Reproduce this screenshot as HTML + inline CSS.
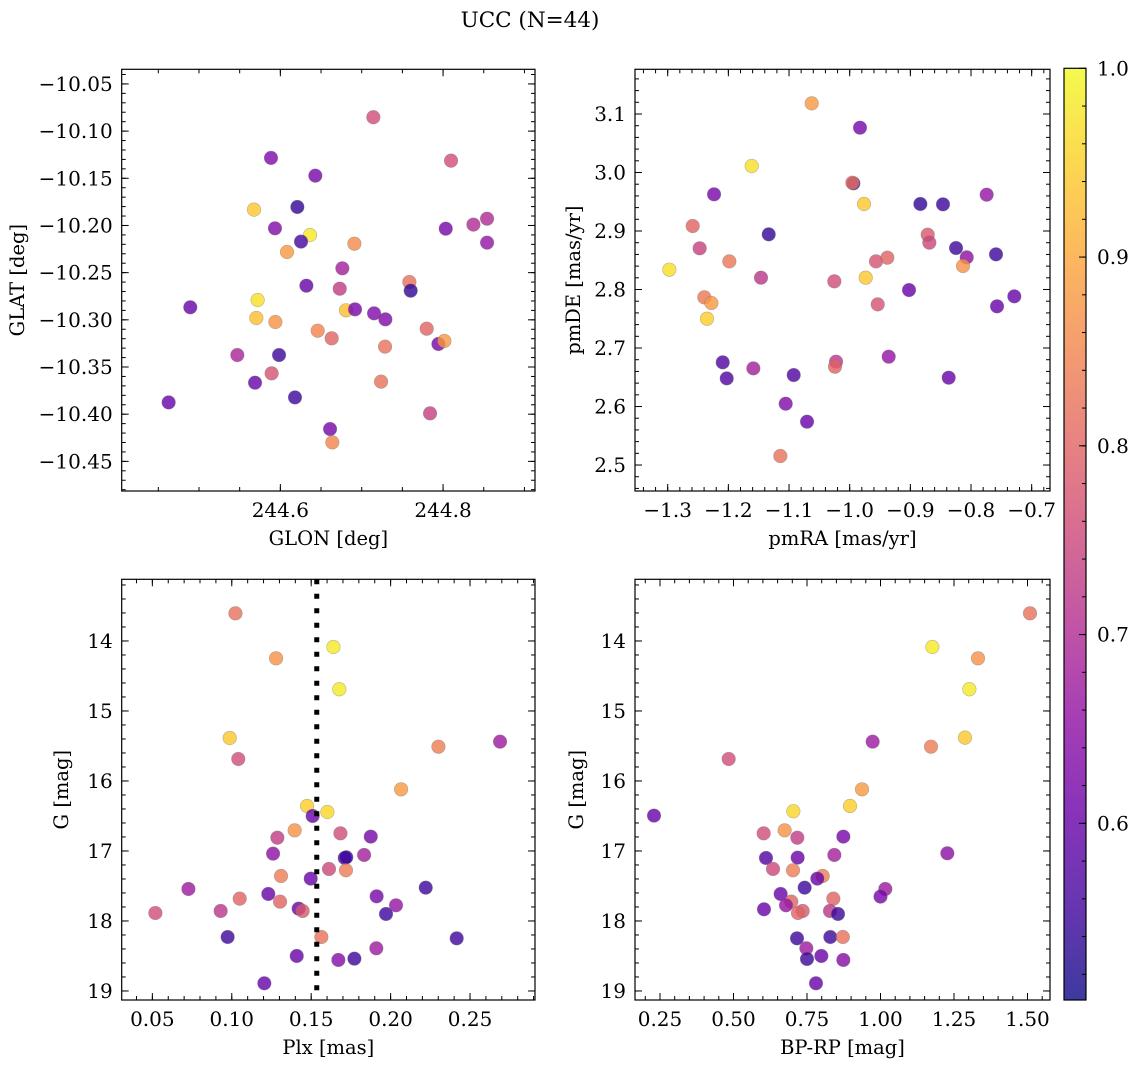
<!DOCTYPE html>
<html><head><meta charset="utf-8"><style>
html,body{margin:0;padding:0;background:#fff}
svg text{font-family:"DejaVu Serif","Liberation Serif",serif;fill:#000}
</style></head><body>
<svg id="fig" width="1136" height="1068" viewBox="0 0 1136 1068" xmlns="http://www.w3.org/2000/svg">
<defs>
<linearGradient id="cmap" x1="0" y1="1" x2="0" y2="0">
<stop offset="0" stop-color="#0d0887"/><stop offset="0.1" stop-color="#41049d"/><stop offset="0.2" stop-color="#6a00a8"/><stop offset="0.3" stop-color="#8f0da4"/><stop offset="0.4" stop-color="#b12a90"/><stop offset="0.5" stop-color="#cc4778"/><stop offset="0.6" stop-color="#e16462"/><stop offset="0.7" stop-color="#f2844b"/><stop offset="0.8" stop-color="#fca636"/><stop offset="0.9" stop-color="#fcce25"/><stop offset="1" stop-color="#f0f921"/>
</linearGradient>
</defs>
<text x="530" y="27" font-size="21.5" text-anchor="middle">UCC (N=44)</text>
</svg>
<script>
// ---- data ----
const glon = [244.7143,244.8098,244.5885,244.6430,244.6209,244.5676,244.6365,244.5934,244.6254,244.6910,244.6082,244.8541,244.8373,244.8033,244.8541,244.6762,244.6320,244.7586,244.7602,244.4893,244.5721,244.5705,244.5939,244.6730,244.6807,244.6918,244.7152,244.7291,244.6459,244.6631,244.7287,244.7799,244.7943,244.8016,244.5471,244.5984,244.5893,244.5689,244.6180,244.7238,244.7840,244.6611,244.6639,244.4627];
const glat = [-10.0853,-10.1313,-10.1284,-10.1472,-10.1804,-10.1832,-10.2101,-10.2030,-10.2171,-10.2193,-10.2281,-10.1928,-10.1991,-10.2034,-10.2182,-10.2454,-10.2638,-10.2599,-10.2691,-10.2867,-10.2790,-10.2981,-10.3023,-10.2670,-10.2899,-10.2889,-10.2931,-10.2995,-10.3115,-10.3196,-10.3284,-10.3094,-10.3256,-10.3224,-10.3373,-10.3373,-10.3567,-10.3666,-10.3822,-10.3655,-10.3991,-10.4157,-10.4299,-10.3875];
const probA = [0.76,0.76,0.63,0.62,0.54,0.94,0.98,0.63,0.56,0.86,0.88,0.70,0.70,0.62,0.66,0.68,0.60,0.82,0.54,0.60,0.97,0.93,0.87,0.73,0.93,0.62,0.63,0.63,0.85,0.80,0.82,0.80,0.62,0.88,0.69,0.55,0.77,0.60,0.55,0.82,0.74,0.62,0.85,0.60];

const pmra = [-1.0626,-0.983,-1.1615,-0.994,-0.9956,-0.9764,-0.8835,-0.8462,-0.7742,-1.2236,-1.2588,-1.1335,-1.2473,-0.8714,-0.8687,-0.8247,-0.8071,-0.8132,-0.7588,-1.1984,-1.2973,-1.1462,-1.0253,-0.9566,-0.9379,-0.9736,-0.9022,-0.9538,-0.7571,-0.7286,-1.2396,-1.228,-1.2352,-1.2093,-1.2027,-1.1588,-1.0923,-1.0225,-1.0242,-0.9357,-0.8368,-1.1055,-1.0703,-1.1143];
const pmde = [3.1182,3.0766,3.0111,2.9815,2.9826,2.9462,2.9462,2.9456,2.9621,2.9627,2.9085,2.8943,2.8704,2.8937,2.8801,2.8709,2.8550,2.8402,2.8601,2.8481,2.8339,2.8202,2.8140,2.8481,2.8544,2.8202,2.7991,2.7746,2.7712,2.7883,2.7866,2.7769,2.7501,2.6755,2.6481,2.6652,2.6538,2.6766,2.6681,2.6852,2.6493,2.6048,2.5741,2.5154];
const probB = [0.88,0.62,0.97,0.55,0.82,0.94,0.54,0.55,0.66,0.62,0.80,0.54,0.74,0.78,0.75,0.55,0.65,0.87,0.55,0.83,0.97,0.72,0.76,0.77,0.80,0.94,0.60,0.77,0.60,0.60,0.83,0.88,0.95,0.57,0.57,0.68,0.57,0.72,0.80,0.66,0.60,0.63,0.60,0.82];

const plx = [0.1023,0.164,0.1279,0.1677,0.0987,0.1041,0.2301,0.2689,0.2066,0.1474,0.1602,0.1509,0.1396,0.1287,0.1684,0.1875,0.126,0.1711,0.1721,0.1833,0.1612,0.1719,0.131,0.1497,0.0727,0.2221,0.105,0.123,0.1304,0.1421,0.1446,0.1912,0.2034,0.1971,0.0519,0.093,0.0974,0.1564,0.2416,0.1409,0.191,0.1671,0.1772,0.1205];
const gmagC = [13.605,14.086,14.248,14.690,15.386,15.686,15.510,15.438,16.119,16.357,16.443,16.5,16.705,16.810,16.748,16.795,17.038,17.1,17.09,17.057,17.257,17.276,17.357,17.395,17.543,17.524,17.681,17.614,17.724,17.824,17.857,17.648,17.776,17.9,17.886,17.857,18.229,18.229,18.248,18.5,18.39,18.557,18.538,18.890];
const probC = [0.82,0.98,0.87,0.98,0.94,0.76,0.84,0.67,0.88,0.95,0.96,0.60,0.87,0.73,0.76,0.62,0.65,0.57,0.55,0.68,0.75,0.84,0.84,0.60,0.67,0.55,0.80,0.60,0.80,0.60,0.78,0.62,0.66,0.55,0.76,0.72,0.55,0.82,0.55,0.60,0.67,0.64,0.55,0.60];
const plxCut = [0.1535];

const bprp = [1.5085,1.1763,1.3316,1.3022,1.2874,1.1718,0.9733,0.4836,0.9371,0.8963,0.7035,0.2296,0.674,0.6026,0.7171,0.8736,0.843,1.2273,0.6105,0.7182,0.6344,0.7024,0.8033,0.7851,1.0164,0.742,0.6604,0.6967,0.8396,1.0,0.6786,0.6037,0.7352,0.7194,0.8283,0.8554,0.716,0.8293,0.8719,0.7477,0.75,0.7988,0.8736,0.7806];
const gmagD = [13.605,14.086,14.248,14.690,15.381,15.510,15.438,15.686,16.119,16.357,16.433,16.495,16.705,16.748,16.810,16.795,17.057,17.033,17.1,17.095,17.257,17.276,17.357,17.395,17.543,17.524,17.614,17.724,17.681,17.652,17.776,17.833,17.857,17.886,17.857,17.9,18.248,18.229,18.229,18.39,18.543,18.5,18.557,18.890];
const probD = [0.82,0.98,0.87,0.98,0.94,0.84,0.67,0.76,0.88,0.95,0.96,0.60,0.87,0.76,0.73,0.62,0.68,0.65,0.57,0.60,0.75,0.84,0.84,0.60,0.67,0.55,0.60,0.80,0.80,0.62,0.66,0.60,0.78,0.80,0.72,0.55,0.55,0.55,0.82,0.67,0.55,0.60,0.64,0.60];

const cbTicks = [0.6,0.7,0.8,0.9,1.0];
const VMIN = 0.5064, VMAX = 1.0;

// ---- helpers ----
const NS = "http://www.w3.org/2000/svg";
const svg = document.getElementById('fig');
function mk(tag, attrs, parent){const e=document.createElementNS(NS,tag);for(const k in attrs)e.setAttribute(k,attrs[k]);(parent||svg).appendChild(e);return e;}
const stops=[[13,8,135],[65,4,157],[106,0,168],[143,13,164],[177,42,144],[204,71,120],[225,100,98],[242,132,75],[252,166,54],[252,206,37],[240,249,33]];
function cmap(v){let t=(v-VMIN)/(VMAX-VMIN);t=Math.max(0,Math.min(1,t))*10;const i=Math.min(9,Math.floor(t)),f=t-i;const a=stops[i],b=stops[i+1];return 'rgb('+a.map((c,k)=>Math.round(c+(b[k]-c)*f)).join(',')+')';}
function fmt(v,d){const s=Math.abs(v).toFixed(d);return (v<-1e-9?'\u2212':'')+s;}
const TFS=20, LFS=19.5;

function panel(cfg){
  const g=mk('g',{});
  
  
  const sx=v=>cfg.x0+(v-cfg.xmin)/(cfg.xmax-cfg.xmin)*(cfg.x1-cfg.x0);
  const sy=cfg.invert?(v=>cfg.y0+(v-cfg.ymin)/(cfg.ymax-cfg.ymin)*(cfg.y1-cfg.y0)):(v=>cfg.y1-(v-cfg.ymin)/(cfg.ymax-cfg.ymin)*(cfg.y1-cfg.y0));
  const tg=mk('g',{stroke:'#000','stroke-width':1},g);
  
  
  function ticksX(step,len){const s=Math.ceil(cfg.xmin/step-1e-6);for(let k=s;k*step<=cfg.xmax+1e-9;k++){const x=sx(k*step);mk('line',{x1:x,x2:x,y1:cfg.y1,y2:cfg.y1-len},tg);mk('line',{x1:x,x2:x,y1:cfg.y0,y2:cfg.y0+len},tg);}}
  function ticksY(step,len){const s=Math.ceil(cfg.ymin/step-1e-6);for(let k=s;k*step<=cfg.ymax+1e-9;k++){const y=sy(k*step);mk('line',{x1:cfg.x0,x2:cfg.x0+len,y1:y,y2:y},tg);mk('line',{x1:cfg.x1,x2:cfg.x1-len,y1:y,y2:y},tg);}}
  ticksX(cfg.xminor,4);ticksX(cfg.xmajor,7);ticksY(cfg.yminor,4);ticksY(cfg.ymajor,7);
  cfg.xlabels.forEach(v=>{const t=mk('text',{x:sx(v),y:cfg.y1+26,'font-size':TFS,'text-anchor':'middle'},g);t.textContent=fmt(v,cfg.xd);
    
    });
  cfg.ylabels.forEach(v=>{const t=mk('text',{x:cfg.x0-9,y:sy(v)+7,'font-size':TFS,'text-anchor':'end'},g);t.textContent=fmt(v,cfg.yd);
    
    });
  const xt=mk('text',{x:(cfg.x0+cfg.x1)/2,y:cfg.y1+54,'font-size':LFS,'text-anchor':'middle'},g);xt.textContent=cfg.xtitle;
  
  
  const yt=mk('text',{x:0,y:0,'font-size':LFS,'text-anchor':'middle',transform:'translate('+cfg.ytx+','+((cfg.y0+cfg.y1)/2)+') rotate(-90)'},g);yt.textContent=cfg.ytitle;
  
  
  const pg=mk('g',{},g);
  
  
  cfg.xs.forEach((v,i)=>{const c=mk('circle',{cx:sx(v),cy:sy(cfg.ys[i]),r:6.8,fill:cmap(cfg.cs[i]),'fill-opacity':0.8,stroke:'#777','stroke-opacity':0.5,'stroke-width':0.6},pg);
    
    });
  if(cfg.vline){cfg.vline.forEach(v=>{const l=mk('line',{x1:sx(v),x2:sx(v),y1:cfg.y0,y2:cfg.y1,stroke:'#000','stroke-width':5,'stroke-dasharray':'5 9.5'},g);
    
    });}
  const fr=mk('rect',{x:cfg.x0,y:cfg.y0,width:cfg.x1-cfg.x0,height:cfg.y1-cfg.y0,fill:'none',stroke:'#000','stroke-width':1.2},g);
  
  
}

panel({name:'glon-glat-panel',x0:121.7,x1:535,y0:69.3,y1:491,xmin:244.405,xmax:244.913,ymin:-10.4814,ymax:-10.0345,
  xmajor:0.2,xminor:0.05,ymajor:0.05,yminor:0.01,xlabels:[244.6,244.8],xd:1,ylabels:[-10.05,-10.1,-10.15,-10.2,-10.25,-10.3,-10.35,-10.4,-10.45],yd:2,
  xtitle:'GLON [deg]',ytitle:'GLAT [deg]',ytx:24,xs:glon,ys:glat,cs:probA});
panel({name:'pm-panel',x0:635,x1:1050,y0:69.3,y1:491,xmin:-1.3539,xmax:-0.6698,ymin:2.4556,ymax:3.1764,
  xmajor:0.1,xminor:0.02,ymajor:0.1,yminor:0.02,xlabels:[-1.3,-1.2,-1.1,-1.0,-0.9,-0.8,-0.7],xd:1,ylabels:[2.5,2.6,2.7,2.8,2.9,3.0,3.1],yd:1,
  xtitle:'pmRA [mas/yr]',ytitle:'pmDE [mas/yr]',ytx:580,xs:pmra,ys:pmde,cs:probB});
panel({name:'plx-g-panel',x0:121.7,x1:535,y0:579.3,y1:1000,xmin:0.0307,xmax:0.2909,ymin:13.119,ymax:19.129,invert:true,
  xmajor:0.05,xminor:0.01,ymajor:1,yminor:0.2,xlabels:[0.05,0.10,0.15,0.20,0.25],xd:2,ylabels:[14,15,16,17,18,19],yd:0,
  xtitle:'Plx [mas]',ytitle:'G [mag]',ytx:68,xs:plx,ys:gmagC,cs:probC,vline:plxCut});
panel({name:'cmd-panel',x0:635,x1:1050,y0:579.3,y1:1000,xmin:0.165,xmax:1.5765,ymin:13.119,ymax:19.129,invert:true,
  xmajor:0.25,xminor:0.05,ymajor:1,yminor:0.2,xlabels:[0.25,0.5,0.75,1.0,1.25,1.5],xd:2,ylabels:[14,15,16,17,18,19],yd:0,
  xtitle:'BP-RP [mag]',ytitle:'G [mag]',ytx:583,xs:bprp,ys:gmagD,cs:probD});

(function(){
  const x0=1064,x1=1086,y0=68.3,y1=1000;
  const g=mk('g',{});
  
  
  mk('rect',{x:x0,y:y0,width:x1-x0,height:y1-y0,fill:'url(#cmap)','fill-opacity':0.8},g);
  const sy=v=>y1-(v-VMIN)/(VMAX-VMIN)*(y1-y0);
  for(let k=Math.ceil(VMIN/0.02-1e-6);k*0.02<=VMAX+1e-9;k++){const y=sy(k*0.02);mk('line',{x1:x1-4,x2:x1,y1:y,y2:y,stroke:'#000','stroke-width':1},g);}
  cbTicks.forEach(v=>{const y=sy(v);mk('line',{x1:x1-7,x2:x1,y1:y,y2:y,stroke:'#000','stroke-width':1},g);
    const t=mk('text',{x:x1+11,y:y+7,'font-size':TFS},g);t.textContent=v.toFixed(1);
    
    });
  mk('rect',{x:x0,y:y0,width:x1-x0,height:y1-y0,fill:'none',stroke:'#000','stroke-width':1.2},g);
})();
</script>
</body></html>
